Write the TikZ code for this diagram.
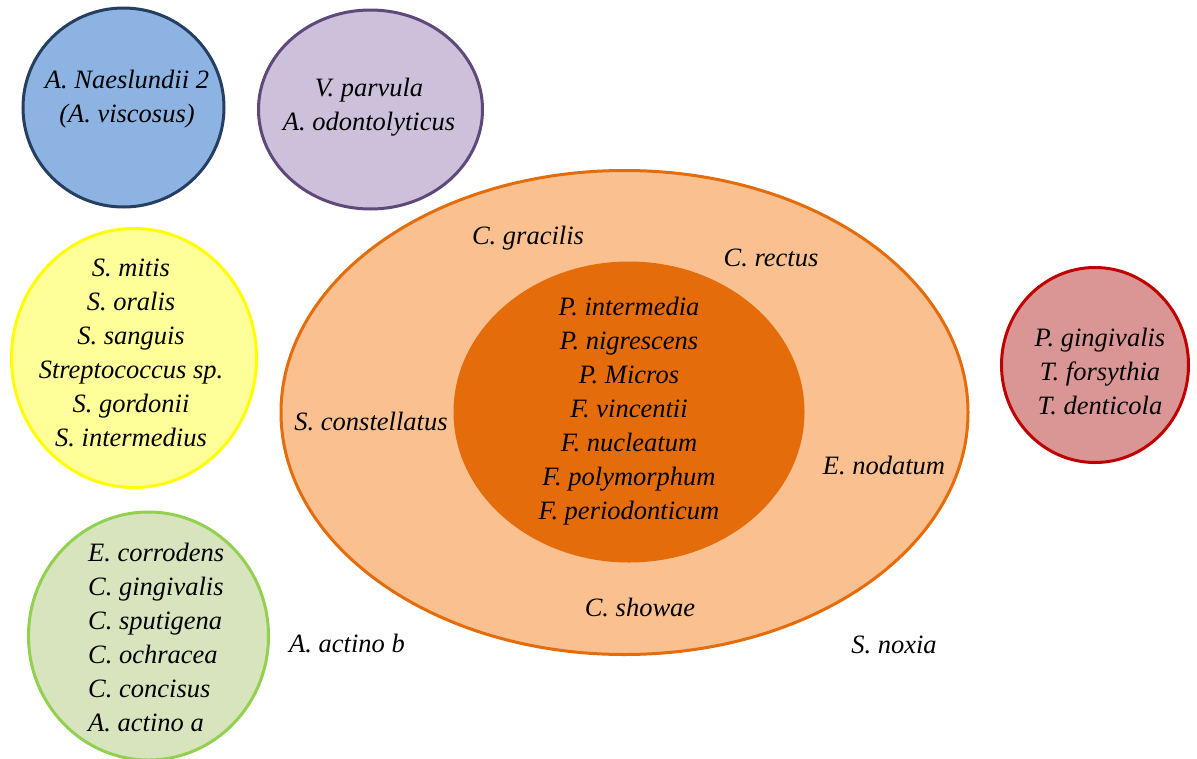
\documentclass[tikz,border=0pt]{standalone}
\usepackage{fontspec}
\setmainfont{Liberation Serif}
\usetikzlibrary{shapes.geometric}
\definecolor{bluefill}{HTML}{8DB3E2}
\definecolor{bluedraw}{HTML}{243F60}
\definecolor{purfill}{HTML}{CCC0DA}
\definecolor{purdraw}{HTML}{5F497A}
\definecolor{yelfill}{HTML}{FFFF99}
\definecolor{yeldraw}{HTML}{FFFF00}
\definecolor{grnfill}{HTML}{D7E4BD}
\definecolor{grndraw}{HTML}{92D050}
\definecolor{redfill}{HTML}{D99694}
\definecolor{reddraw}{HTML}{C00000}
\definecolor{orafill}{HTML}{FAC090}
\definecolor{oradraw}{HTML}{E46C0A}
\definecolor{coreill}{HTML}{E46C0A}
\tikzset{
  blob/.style={ellipse, line width=3pt, inner sep=0pt, outer sep=0pt},
  lbl/.style={font=\fontsize{26.5}{34}\selectfont\itshape, inner sep=0pt, align=center, text=black},
}
\begin{document}
\begin{tikzpicture}[x=1pt,y=-1pt]
\useasboundingbox (0,0) rectangle (1197,758);
% circles
\node[blob, fill=bluefill, draw=bluedraw, minimum width=201pt, minimum height=199pt] (blue) at (123.5,107.5) {};
\node[blob, fill=purfill, draw=purdraw, minimum width=224pt, minimum height=199pt] (purple) at (370.5,109.5) {};
\node[blob, fill=yelfill, draw=yeldraw, minimum width=245pt, minimum height=259pt] (yellow) at (134,358) {};
\node[blob, fill=grnfill, draw=grndraw, minimum width=240pt, minimum height=248pt] (green) at (148.5,636) {};
\node[blob, fill=redfill, draw=reddraw, minimum width=187pt, minimum height=195pt] (red) at (1095,365) {};
\node[blob, fill=orafill, draw=oradraw, minimum width=687pt, minimum height=484pt] (outer) at (624.5,412.5) {};
\node[blob, fill=coreill, draw=none, minimum width=351pt, minimum height=301pt] (core) at (629,412) {};
% labels
\node[lbl] (tblue) at (127,99) {A. Naeslundii 2\\(A. viscosus)};
\node[lbl] (tpur) at (369,107) {V. parvula\\A. odontolyticus};
\node[lbl] (tyel) at (131,353) {S. mitis\\S. oralis\\S. sanguis\\Streptococcus sp.\\S. gordonii\\S. intermedius};
\node[lbl, align=left, anchor=west] (tgrn) at (88,637.5) {E. corrodens\\C. gingivalis\\C. sputigena\\C. ochracea\\C. concisus\\A. actino a};
\node[lbl] (tred) at (1100,371.5) {P. gingivalis\\T. forsythia\\T. denticola};
\node[lbl] (tcore) at (629,411) {P. intermedia\\P. nigrescens\\P. Micros\\F. vincentii\\F. nucleatum\\F. polymorphum\\F. periodonticum};
\node[lbl] (cgrac) at (528,238) {C. gracilis};
\node[lbl] (crect) at (771,258) {C. rectus};
\node[lbl] (scons) at (371,421) {S. constellatus};
\node[lbl] (enod) at (884,465) {E. nodatum};
\node[lbl] (cshow) at (640,607) {C. showae};
\node[lbl] (aactb) at (347,643) {A. actino b};
\node[lbl] (snox) at (894,645) {S. noxia};
\end{tikzpicture}
\end{document}
